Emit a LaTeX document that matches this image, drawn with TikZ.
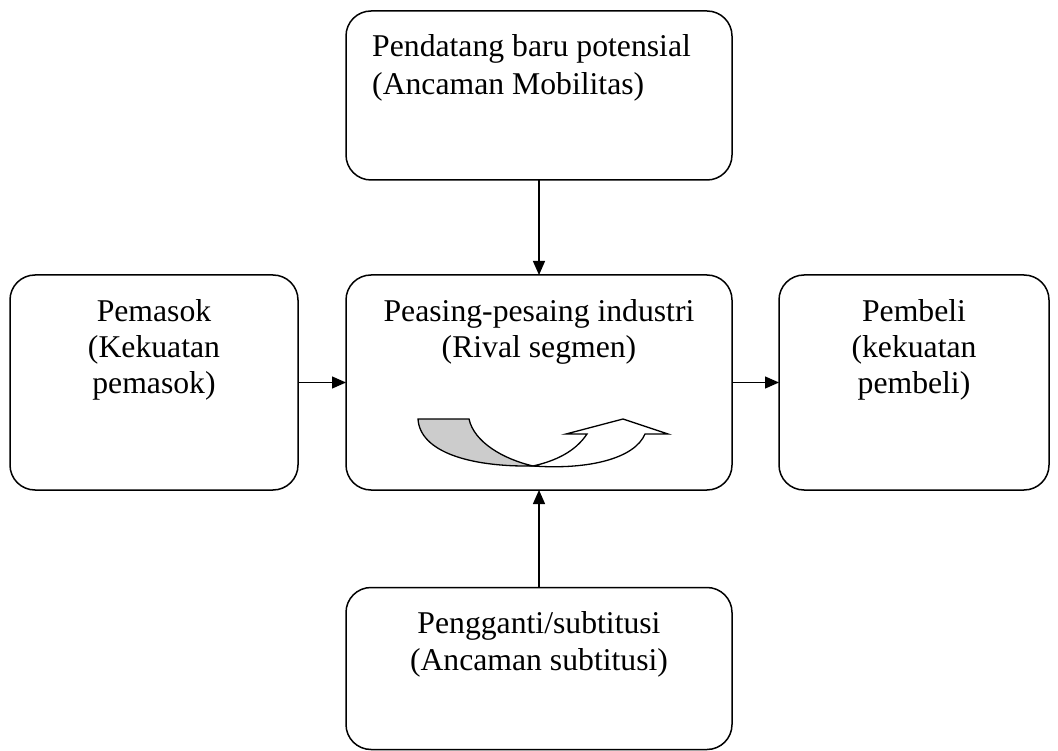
\documentclass[tikz,border=0pt]{standalone}
\usepackage{fontspec}
\setmainfont{Liberation Serif}
\usetikzlibrary{arrows.meta}
\begin{document}
\begin{tikzpicture}[x=1pt,y=-1pt,
  box/.style={draw=black,line width=1.5pt,rounded corners=25pt,inner sep=0pt,outer sep=0pt},
  txt/.style={inner sep=0pt,font=\fontsize{31.7}{36}\selectfont},
  conn/.style={line width=1.3pt,-{Triangle[length=14pt,width=12pt]}}]
\useasboundingbox (0,0) rectangle (1058,751);
% boxes
\node[box,minimum width=386pt,minimum height=169pt] (top) at (539,95.5) {};
\node[box,minimum width=288pt,minimum height=215pt] (left) at (154,382.5) {};
\node[box,minimum width=386pt,minimum height=215pt] (mid) at (539,382.5) {};
\node[box,minimum width=270pt,minimum height=215pt] (right) at (914,382.5) {};
\node[box,minimum width=386pt,minimum height=162pt] (bot) at (539,668.5) {};
% texts
\node[txt,anchor=base west] (t1) at (372,57) {Pendatang baru potensial};
\node[txt,anchor=base west] (t2) at (372,95) {(Ancaman Mobilitas)};
\node[txt,anchor=base] (l1) at (154,322) {Pemasok};
\node[txt,anchor=base] (l2) at (154,358) {(Kekuatan};
\node[txt,anchor=base] (l3) at (154,393) {pemasok)};
\node[txt,anchor=base] (m1) at (539,322) {Peasing-pesaing industri};
\node[txt,anchor=base] (m2) at (539,358) {(Rival segmen)};
\node[txt,anchor=base] (r1) at (914,322) {Pembeli};
\node[txt,anchor=base] (r2) at (914,358) {(kekuatan};
\node[txt,anchor=base] (r3) at (914,393) {pembeli)};
\node[txt,anchor=base] (b1) at (539,633) {Pengganti/subtitusi};
\node[txt,anchor=base] (b2) at (539,670) {(Ancaman subtitusi)};
% connectors
\draw[conn] (top.south) -- (mid.north);
\draw[conn] (left.east) -- (mid.west);
\draw[conn] (mid.east) -- (right.west);
\draw[conn] (bot.north) -- (mid.south);
% curved arrow
\draw[line width=1.3pt,line join=miter,fill=white]
  (533,466) .. controls (590,470) and (635,458) .. (645,434)
  -- (668,434) -- (623,419) -- (566,434) -- (587,434)
  .. controls (575,452) and (555,461) .. (533,466) -- cycle;
\draw[line width=1.3pt,line join=miter,fill=black!20]
  (418,419) -- (469,419)
  .. controls (474,442) and (503,459) .. (533,466)
  .. controls (470,467) and (420,452) .. (418,419) -- cycle;
\end{tikzpicture}
\end{document}
